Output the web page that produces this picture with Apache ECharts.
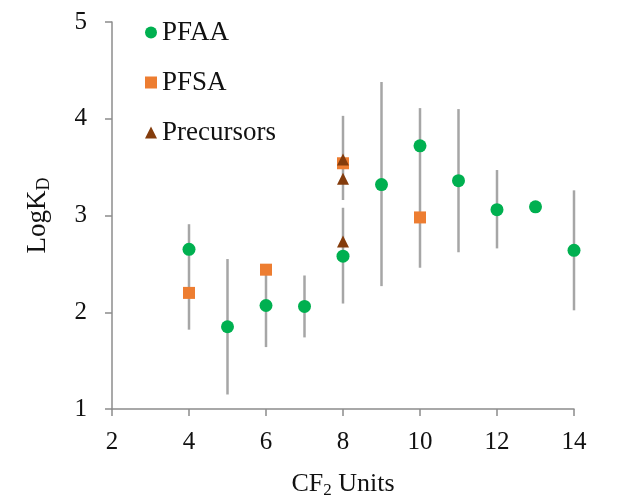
<!DOCTYPE html>
<html>
<head>
<meta charset="utf-8">
<script src="https://cdn.jsdelivr.net/npm/echarts@6/dist/echarts.min.js"></script>
<style>
  html, body { margin: 0; padding: 0; background: #fff; }
  #chart { width: 620px; height: 497px; }
</style>
</head>
<body>
<div id="chart"></div>
<script>
// CF2 units and LogKD values
const pfaaX = [4, 5, 6, 7, 8, 9, 10, 11, 12, 13, 14];
const pfaaY = [2.65, 1.85, 2.07, 2.06, 2.58, 3.32, 3.72, 3.36, 3.06, 3.09, 2.64];

const pfsaX = [4, 6, 8, 10];
const pfsaY = [2.20, 2.44, 3.54, 2.98];

const precX = [8, 8, 8];
const precY = [2.73, 3.38, 3.58];

// error bars: x, low, high
const errX = [4, 5, 6, 7, 8, 8, 9, 10, 11, 12, 14];
const errLow = [1.82, 1.15, 1.64, 1.74, 2.09, 3.16, 2.27, 2.46, 2.62, 2.66, 2.02];
const errHigh = [2.91, 2.55, 2.45, 2.38, 3.08, 4.03, 4.38, 4.11, 4.10, 3.47, 3.26];

const xTicks = [2, 4, 6, 8, 10, 12, 14];
const yTicks = [1, 2, 3, 4, 5];

const serif = '"Liberation Serif", "DejaVu Serif", serif';
const axisGray = '#8c8c8c';
const ink = '#111';

const zip = (xs, ys) => xs.map((x, i) => [x, ys[i]]);

const chart = echarts.init(document.getElementById('chart'));

chart.setOption({
  animation: false,
  backgroundColor: '#fff',
  grid: { left: 112, right: 46, top: 22, bottom: 88, outerBoundsMode: 'none', containLabel: false },
  legend: {
    orient: 'vertical',
    left: 140,
    top: 14,
    itemGap: 23,
    itemWidth: 12,
    itemHeight: 12,
    textStyle: { fontFamily: serif, fontSize: 27, color: ink, padding: [0, 0, 0, 0] },
    data: ['PFAA', 'PFSA', 'Precursors']
  },
  xAxis: {
    type: 'value',
    min: xTicks[0],
    max: xTicks[xTicks.length - 1],
    interval: 2,
    name: 'CF{s|2} Units',
    nameLocation: 'middle',
    nameGap: 61,
    nameTextStyle: {
      fontFamily: serif, fontSize: 26, color: ink,
      rich: { s: { fontFamily: serif, fontSize: 17, color: ink, padding: [12, 0, 0, 0] } }
    },
    splitLine: { show: false },
    axisLine: { lineStyle: { color: axisGray, width: 1.5 } },
    axisTick: { inside: false, length: 7, lineStyle: { color: axisGray, width: 1.5 } },
    axisLabel: { fontFamily: serif, fontSize: 25, color: ink, margin: 21 }
  },
  yAxis: {
    type: 'value',
    min: yTicks[0],
    max: yTicks[yTicks.length - 1],
    interval: 1,
    name: 'LogK{s|D}',
    nameLocation: 'middle',
    nameGap: 59,
    nameRotate: 90,
    nameTextStyle: {
      fontFamily: serif, fontSize: 27, color: ink,
      rich: { s: { fontFamily: serif, fontSize: 18, color: ink, padding: [12, 0, 0, 0] } }
    },
    splitLine: { show: false },
    axisLine: { show: true, lineStyle: { color: axisGray, width: 1.5 } },
    axisTick: { show: true, inside: false, length: 7, lineStyle: { color: axisGray, width: 1.5 } },
    axisLabel: { fontFamily: serif, fontSize: 25, color: ink, margin: 25 }
  },
  series: [
    {
      name: 'errors',
      type: 'custom',
      z: 1,
      silent: true,
      data: errX.map((x, i) => [x, errLow[i], errHigh[i]]),
      renderItem: (params, api) => {
        const lo = api.coord([api.value(0), api.value(1)]);
        const hi = api.coord([api.value(0), api.value(2)]);
        return {
          type: 'line',
          shape: { x1: lo[0], y1: lo[1], x2: hi[0], y2: hi[1] },
          style: { stroke: '#a6a6a6', lineWidth: 2.5 }
        };
      }
    },
    {
      name: 'PFAA',
      type: 'scatter',
      z: 3,
      symbol: 'circle',
      symbolSize: 13,
      itemStyle: { color: '#00b050', opacity: 1 },
      data: zip(pfaaX, pfaaY)
    },
    {
      name: 'PFSA',
      type: 'scatter',
      z: 3,
      symbol: 'rect',
      symbolSize: 12,
      itemStyle: { color: '#ed7d31', opacity: 1 },
      data: zip(pfsaX, pfsaY)
    },
    {
      name: 'Precursors',
      type: 'scatter',
      z: 4,
      symbol: 'triangle',
      symbolSize: 12,
      itemStyle: { color: '#843c0c', opacity: 1 },
      data: zip(precX, precY)
    }
  ]
});
</script>
</body>
</html>
